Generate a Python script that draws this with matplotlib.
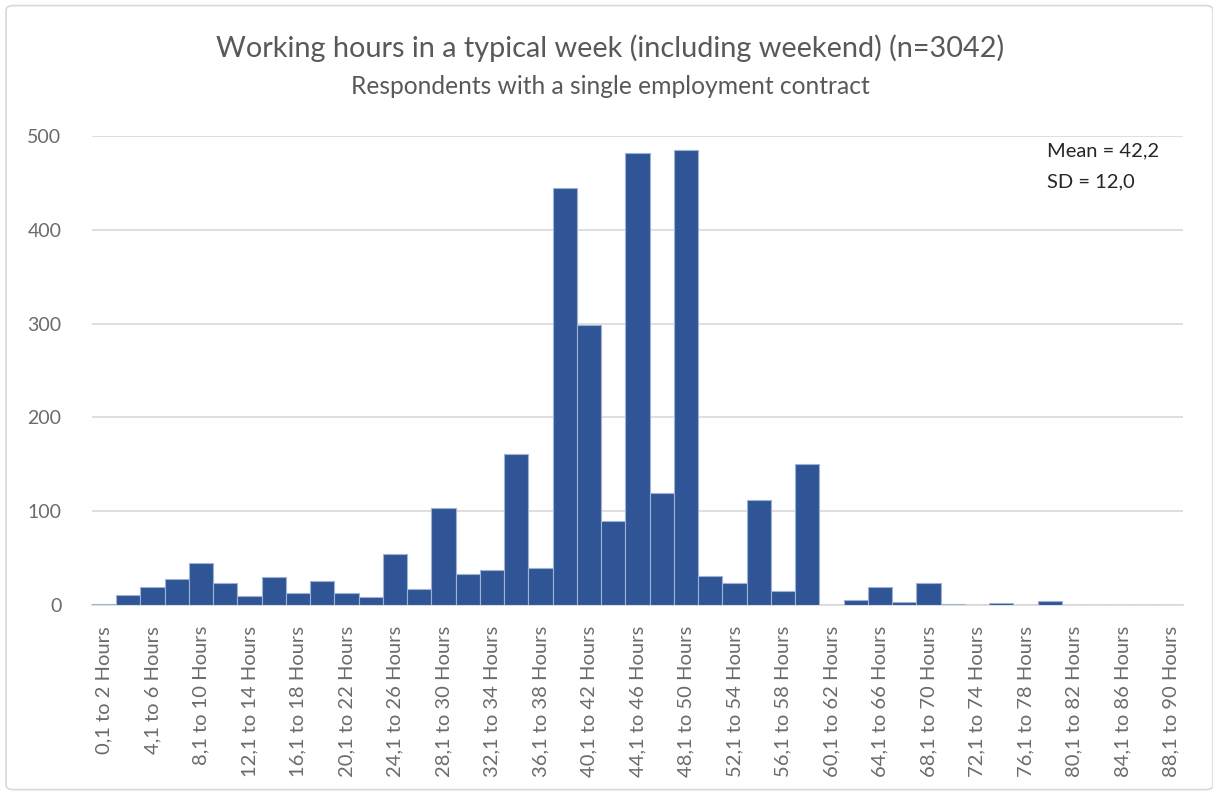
import matplotlib
matplotlib.use("Agg")
import matplotlib.pyplot as plt
from matplotlib.patches import FancyBboxPatch
import numpy as np

# Data
bin_starts = list(range(0, 90, 2))
categories = [("0,1" if s == 0 else f"{s},1") + f" to {s+2} Hours" for s in bin_starts]
counts = [1, 11, 19, 28, 45, 24, 10, 30, 13, 26,
          13, 9, 54, 17, 103, 33, 37, 161, 39, 445,
          299, 90, 482, 119, 485, 31, 24, 112, 15, 150,
          0, 5, 19, 3, 24, 1, 0.3, 2, 0, 4,
          0.5, 0, 0, 0, 0]
y_ticks = [0, 100, 200, 300, 400, 500]
title = "Working hours in a typical week (including weekend) (n=3042)"
subtitle = "Respondents with a single employment contract"
stats_text = ["Mean = 42,2", "SD = 12,0"]

plt.rcParams['font.family'] = ['Lato', 'DejaVu Sans']

fig = plt.figure(figsize=(12.13, 7.96), dpi=100)
ax = fig.add_axes([0.0758, 0.2399, 0.8995, 0.5892])

x = np.arange(len(categories))
ax.bar(x, counts, width=1.0, color="#2F5597", edgecolor="#9fb2d6", linewidth=0.8, zorder=3)

ax.set_xlim(-0.5, len(categories) - 0.5)
ax.set_ylim(0, 500)
ax.set_yticks(y_ticks)
ax.set_yticklabels([str(v) for v in y_ticks], fontsize=14, color="#6b6b6b")
ax.tick_params(axis='y', length=0, pad=22)
ax.grid(axis='y', color="#d9d9d9", linewidth=1.2, zorder=0)
ax.set_axisbelow(True)

ax.set_xticks(x[::2])
ax.set_xticklabels(categories[::2], rotation=90, fontsize=14.5, color="#6b6b6b", va='top')
ax.tick_params(axis='x', length=0, pad=15)

for s in ['top', 'right', 'left']:
    ax.spines[s].set_visible(False)
ax.spines['bottom'].set_color("#d9d9d9")
ax.spines['bottom'].set_linewidth(1.2)
ax.spines['bottom'].set_zorder(2)

fig.text(0.503, 0.939, title, ha='center', va='center', fontsize=20.8, color="#595959")
fig.text(0.503, 0.891, subtitle, ha='center', va='center', fontsize=17.7, color="#595959")

fig.text(0.863, 0.811, stats_text[0], ha='left', va='center', fontsize=14.5, color="#262626")
fig.text(0.863, 0.771, stats_text[1], ha='left', va='center', fontsize=14.5, color="#262626")

border = FancyBboxPatch((0.005, 0.008), 0.995, 0.985, boxstyle="round,pad=0,rounding_size=0.006",
                        transform=fig.transFigure, fill=False, edgecolor="#d9d9d9", linewidth=1.2)
fig.patches.append(border)

fig.savefig("out.png", dpi=100)
